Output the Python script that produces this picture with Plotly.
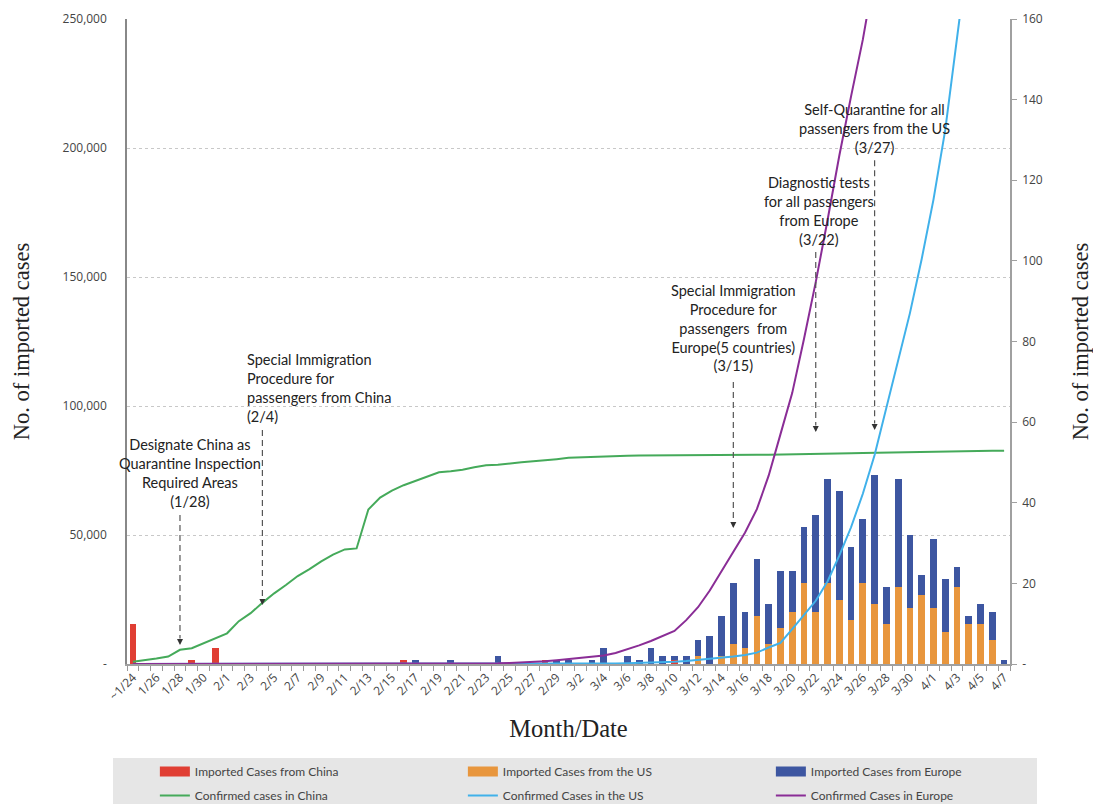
import plotly.graph_objects as go

# ---------------- data ----------------
dates = [
    "1/24", "1/25", "1/26", "1/27", "1/28", "1/29", "1/30", "1/31",
    "2/1", "2/2", "2/3", "2/4", "2/5", "2/6", "2/7", "2/8", "2/9", "2/10",
    "2/11", "2/12", "2/13", "2/14", "2/15", "2/16", "2/17", "2/18", "2/19",
    "2/20", "2/21", "2/22", "2/23", "2/24", "2/25", "2/26", "2/27", "2/28", "2/29",
    "3/1", "3/2", "3/3", "3/4", "3/5", "3/6", "3/7", "3/8", "3/9", "3/10",
    "3/11", "3/12", "3/13", "3/14", "3/15", "3/16", "3/17", "3/18", "3/19", "3/20",
    "3/21", "3/22", "3/23", "3/24", "3/25", "3/26", "3/27", "3/28", "3/29", "3/30",
    "3/31", "4/1", "4/2", "4/3", "4/4", "4/5", "4/6", "4/7",
]

x_tick_labels = [
    "~1/24", "", "1/26", "", "1/28", "", "1/30", "",
    "2/1", "", "2/3", "", "2/5", "", "2/7", "", "2/9", "",
    "2/11", "", "2/13", "", "2/15", "", "2/17", "", "2/19",
    "", "2/21", "", "2/23", "", "2/25", "", "2/27", "", "2/29",
    "", "3/2", "", "3/4", "", "3/6", "", "3/8", "", "3/10",
    "", "3/12", "", "3/14", "", "3/16", "", "3/18", "", "3/20",
    "", "3/22", "", "3/24", "", "3/26", "", "3/28", "", "3/30",
    "", "4/1", "", "4/3", "", "4/5", "", "4/7",
]

# imported cases (right axis)
imported_china = [
    10, 0, 0, 0, 0, 1, 0, 4,
    0, 0, 0, 0, 0, 0, 0, 0, 0, 0,
    0, 0, 0, 0, 0, 1, 0, 0, 0,
    0, 0, 0, 0, 0, 0, 0, 0, 1, 0,
    0, 0, 0, 0, 0, 0, 0, 0, 0, 1,
    0, 0, 0, 0, 0, 0, 0, 0, 0, 0,
    0, 0, 0, 0, 0, 0, 0, 0, 0, 0,
    0, 0, 0, 0, 0, 0, 0, 0,
]
imported_us = [
    0, 0, 0, 0, 0, 0, 0, 0,
    0, 0, 0, 0, 0, 0, 0, 0, 0, 0,
    0, 0, 0, 0, 0, 0, 0, 0, 0,
    0, 0, 0, 0, 0, 0, 0, 0, 0, 0,
    0, 0, 0, 0, 0, 0, 0, 0, 0, 0,
    0, 2, 0, 2, 5, 4, 12, 5, 9, 13,
    20, 13, 20, 16, 11, 20, 15, 10, 19, 14,
    17, 14, 8, 19, 10, 10, 6, 0,
]
imported_europe = [
    0, 0, 0, 0, 0, 0, 0, 0,
    0, 0, 0, 0, 0, 0, 0, 0, 0, 0,
    0, 0, 0, 0, 0, 0, 1, 0, 0,
    1, 0, 0, 0, 2, 0, 0, 0, 0, 1,
    1, 0, 1, 4, 0, 2, 1, 4, 2, 1,
    2, 4, 7, 10, 15, 9, 14, 10, 14, 10,
    14, 24, 26, 27, 18, 16, 32, 9, 27, 18,
    5, 17, 13, 5, 2, 5, 7, 1,
]

# confirmed cases (left axis)
confirmed_china = [
    900, 1400, 2100, 2900, 5500, 6100, 8100, 9800,
    11900, 16600, 19700, 23700, 27400, 30600, 34100, 36800, 39800, 42400,
    44400, 44800, 59900, 64500, 67200, 69300, 71000, 72700, 74300,
    74700, 75300, 76300, 77000, 77200, 77800, 78200, 78600, 78900, 79400,
    79900, 80100, 80300, 80400, 80500, 80700, 80800, 80800, 80900, 80900,
    80900, 80900, 80950, 81000, 81000, 81030, 81060, 81100, 81150, 81250,
    81300, 81400, 81500, 81600, 81650, 81800, 81900, 82000, 82100, 82200,
    82300, 82350, 82400, 82500, 82550, 82600, 82650, 82700,
]
confirmed_us = [
    2, 2, 5, 5, 5, 5, 6, 7,
    8, 11, 11, 11, 12, 12, 12, 12, 12, 12,
    13, 13, 14, 14, 15, 15, 15, 15, 15,
    15, 15, 15, 15, 16, 20, 30, 45, 62, 70,
    80, 100, 120, 160, 220, 310, 400, 500, 600, 900,
    1200, 1600, 2000, 2400, 2900, 3500, 4400, 6400, 8200, 13500,
    19000, 24500, 32000, 42000, 53000, 66000, 81000, 99000, 117000, 136000,
    157000, 180000, 207000, 245000, 280000, 315000, 350000, 385000,
]
confirmed_europe = [
    3, 4, 5, 8, 10, 12, 14, 16,
    18, 20, 22, 24, 26, 28, 30, 32, 34, 36,
    38, 40, 42, 44, 45, 46, 46, 46, 46,
    46, 47, 80, 160, 250, 400, 550, 800, 1100, 1500,
    2000, 2400, 2800, 3300, 4300, 5600, 7200, 8900, 10800, 12800,
    17000, 22000, 28500, 36000, 43500, 51000, 60000, 73000, 89000, 105000,
    126000, 148000, 172000, 197000, 220000, 242000, 268000, 295000, 322000, 350000,
    378000, 405000, 432000, 460000, 487000, 512000, 537000, 560000,
]

events = [
    ("1/28", "Designate China as<br>Quarantine Inspection<br>Required Areas<br>(1/28)"),
    ("2/4", "Special Immigration<br>Procedure for<br>passengers from China<br>(2/4)"),
    ("3/15", "Special Immigration<br>Procedure for<br>passengers  from<br>Europe(5 countries)<br>(3/15)"),
    ("3/22", "Diagnostic tests<br>for all passengers<br>from Europe<br>(3/22)"),
    ("3/27", "Self-Quarantine for all<br>passengers from the US<br>(3/27)"),
]

# ---------------- styles ----------------
C_RED = "#E03E33"
C_ORANGE = "#E8963D"
C_BLUE = "#3D56A1"
C_GREEN = "#45AA5A"
C_LBLUE = "#40B1EA"
C_PURPLE = "#8A2D96"

SANS = "Lato, 'Open Sans', sans-serif"
TICKF = "'Open Sans', sans-serif"
SERIF = "'Liberation Serif', 'DejaVu Serif', serif"

fig = go.Figure()

bar_specs = [
    ("Imported Cases from China", imported_china, C_RED, "g_china"),
    ("Imported Cases from the US", imported_us, C_ORANGE, "g_us"),
    ("Imported Cases from Europe", imported_europe, C_BLUE, "g_eu"),
]
for name, vals, col, grp in bar_specs:
    fig.add_trace(go.Bar(
        x=dates, y=vals, name=name, marker_color=col, marker_line_width=0,
        yaxis="y", legendgroup=grp, showlegend=False,
    ))

line_specs = [
    ("Confirmed cases in China", confirmed_china, C_GREEN),
    ("Confirmed Cases in the US", confirmed_us, C_LBLUE),
    ("Confirmed Cases in Europe", confirmed_europe, C_PURPLE),
]
for name, vals, col in line_specs:
    fig.add_trace(go.Scatter(
        x=dates, y=vals, name=name, mode="lines",
        line=dict(color=col, width=2), yaxis="y2", legend="legend2",
        cliponaxis=True,
    ))

# legend swatches for the bar series (wide rectangles as in the reference)
for name, vals, col, grp in bar_specs:
    fig.add_trace(go.Scatter(
        x=[None], y=[None], name=name, mode="lines",
        line=dict(color=col, width=10), yaxis="y2",
        legendgroup=grp, legend="legend",
    ))

# ---------------- event markers ----------------
arrow_spans = {
    "1/28": (57800, 7400),
    "2/4": (90700, 22900),
    "3/15": (109300, 52700),
    "3/22": (159700, 89900),
    "3/27": (195300, 90700),
}
text_pos = {
    "1/28": dict(y=74000, xshift=10, xanchor="center", align="center"),
    "2/4": dict(y=107000, xshift=-17, xanchor="left", align="left"),
    "3/15": dict(y=130200, xshift=0, xanchor="center", align="center"),
    "3/22": dict(y=175600, xshift=3, xanchor="center", align="center"),
    "3/27": dict(y=207400, xshift=0, xanchor="center", align="center"),
}
for d, txt in events:
    y0, y1 = arrow_spans[d]
    fig.add_shape(type="line", xref="x", yref="y2", x0=d, x1=d, y0=y0, y1=y1 + 2500,
                  line=dict(color="#555555", width=1.2, dash="6px,4px"))
    fig.add_annotation(x=d, y=y1, xref="x", yref="y2", text="", showarrow=True,
                       ax=0, ay=-7, arrowhead=2, arrowsize=1, arrowwidth=1.2,
                       arrowcolor="#333333")
    p = text_pos[d]
    fig.add_annotation(x=d, y=p["y"], xref="x", yref="y2", text=txt, showarrow=False,
                       xshift=p["xshift"], xanchor=p["xanchor"], yanchor="middle",
                       align=p["align"], font=dict(family=SANS, size=14.5, color="#222222"))

# legend background box
fig.add_shape(type="rect", xref="paper", yref="paper",
              x0=(113 - 127) / 883, x1=(1037 - 127) / 883,
              y0=(664 - 758) / 645, y1=(664 - 830) / 645,
              fillcolor="#E6E6E6", line_width=0, layer="below")

legend_common = dict(
    orientation="h", xanchor="right", yanchor="top",
    x=1.078, bgcolor="rgba(0,0,0,0)", entrywidth=263, entrywidthmode="pixels",
    font=dict(family=SANS, size=12, color="#444444"), itemclick="toggle",
    traceorder="normal",
)

fig.update_layout(
    width=1093, height=804,
    template=None,
    paper_bgcolor="white", plot_bgcolor="white",
    margin=dict(l=127, r=83, t=19, b=140, autoexpand=False),
    barmode="stack", bargap=0.43,
    showlegend=True,
    legend=dict(y=(664 - 757) / 645, **legend_common),
    legend2=dict(y=(664 - 781) / 645, **legend_common),
    xaxis=dict(
        type="category", categoryorder="array", categoryarray=dates,
        range=[-0.5, len(dates) - 0.5],
        tickmode="array", tickvals=dates, ticktext=x_tick_labels,
        tickson="boundaries", ticks="outside", ticklen=5, tickcolor="#999999",
        tickangle=-45, tickfont=dict(family=TICKF, size=12, color="#444444"),
        showline=True, linecolor="#A0A0A0", linewidth=1.5,
        showgrid=False, zeroline=False, automargin=False,
        title=dict(text="Month/Date", standoff=17,
                   font=dict(family=SERIF, size=24.5, color="#222222")),
    ),
    yaxis=dict(
        side="right", range=[0, 160],
        tickmode="array", tickvals=[0, 20, 40, 60, 80, 100, 120, 140, 160],
        ticktext=["-", "20", "40", "60", "80", "100", "120", "140", "160"],
        ticks="outside", ticklen=5, tickcolor="#A0A0A0",
        tickfont=dict(family=TICKF, size=12, color="#444444"),
        ticklabelstandoff=3,
        showline=True, linecolor="#A0A0A0", linewidth=1.5,
        showgrid=False, zeroline=False, automargin=False,
        title=dict(text="No. of imported cases", standoff=30,
                   font=dict(family=SERIF, size=22.5, color="#222222")),
    ),
    yaxis2=dict(
        side="left", overlaying="y", range=[0, 250000],
        tickmode="array", tickvals=[0, 50000, 100000, 150000, 200000, 250000],
        ticktext=["-", "50,000", "100,000", "150,000", "200,000", "250,000"],
        ticks="", tickfont=dict(family=TICKF, size=12, color="#444444"),
        ticklabelstandoff=16,
        showline=True, linecolor="#888888", linewidth=1.5,
        showgrid=True, gridcolor="#C8C8C8", griddash="dot", gridwidth=1,
        zeroline=False, automargin=False,
        title=dict(text="No. of imported cases", standoff=27,
                   font=dict(family=SERIF, size=22.5, color="#222222")),
    ),
)

fig.write_html(
    "out.html",
    config={"displayModeBar": False},
    post_script="document.body.style.margin='0';document.body.style.overflow='hidden';",
)
